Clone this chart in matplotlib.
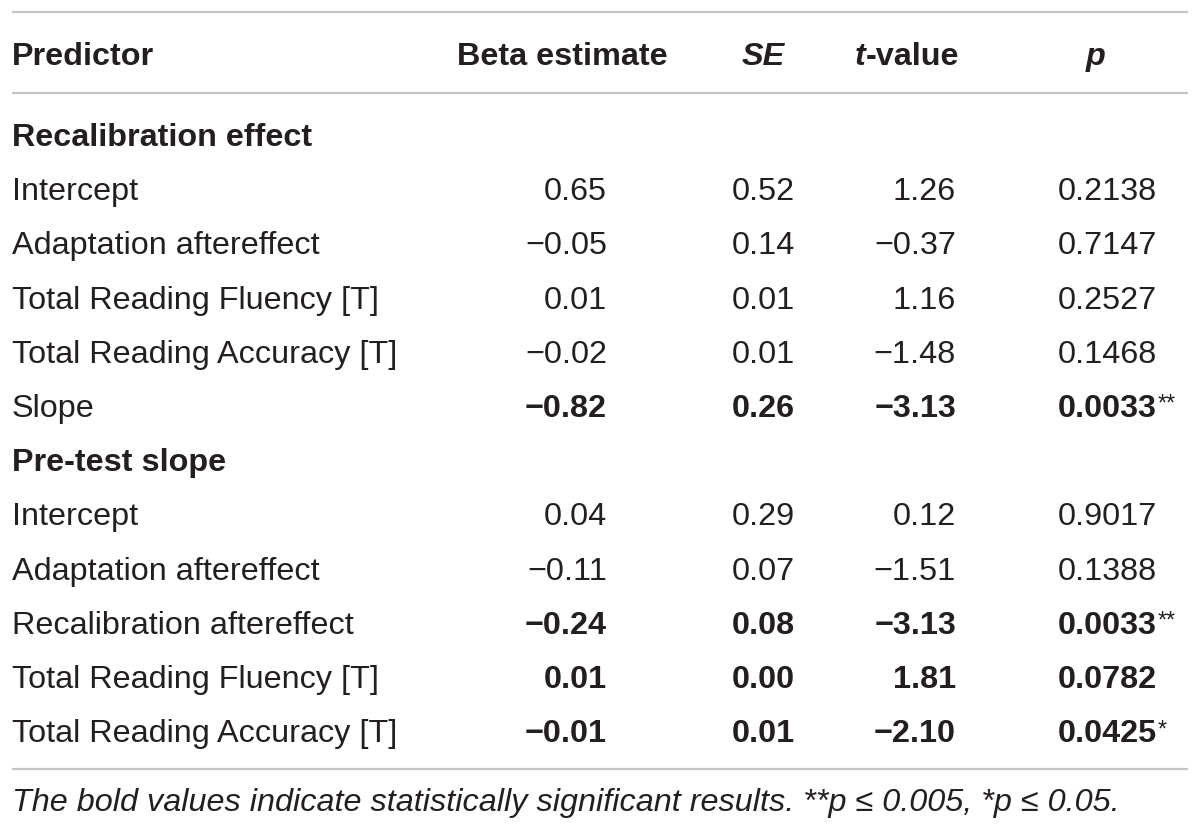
import matplotlib.pyplot as plt

plt.rcParams["font.family"] = ["Liberation Sans", "DejaVu Sans"]

# ---- table data ----
sections = ["Recalibration effect", "Pre-test slope"]

pred_recal = ["Intercept", "Adaptation aftereffect", "Total Reading Fluency [T]",
              "Total Reading Accuracy [T]", "Slope"]
beta_recal = ["0.65", "\u22120.05", "0.01", "\u22120.02", "\u22120.82"]
se_recal = ["0.52", "0.14", "0.01", "0.01", "0.26"]
t_recal = ["1.26", "\u22120.37", "1.16", "\u22121.48", "\u22123.13"]
p_recal = ["0.2138", "0.7147", "0.2527", "0.1468", "0.0033"]
star_recal = ["", "", "", "", "**"]
bold_recal = [False, False, False, False, True]

pred_pre = ["Intercept", "Adaptation aftereffect", "Recalibration aftereffect",
            "Total Reading Fluency [T]", "Total Reading Accuracy [T]"]
beta_pre = ["0.04", "\u22120.11", "\u22120.24", "0.01", "\u22120.01"]
se_pre = ["0.29", "0.07", "0.08", "0.00", "0.01"]
t_pre = ["0.12", "\u22121.51", "\u22123.13", "1.81", "\u22122.10"]
p_pre = ["0.9017", "0.1388", "0.0033", "0.0782", "0.0425"]
star_pre = ["", "", "**", "", "*"]
bold_pre = [False, False, True, True, True]

footnote = ("The bold values indicate statistically significant results. "
            "**p \u2264 0.005, *p \u2264 0.05.")

# ---- layout (pixel coords, y grows downward) ----
W, H = 1200, 832
TXT = "#231f20"
LINE = "#c4c4c4"
FS = 23.3
X_LEFT = 12
X_BETA, X_SE, X_T, X_P = 607, 795, 956, 1157
ROW = 54.2
BASE_HEAD = 65
BASE_SEC1 = 146

fig = plt.figure(figsize=(W / 100, H / 100), dpi=100)
ax = fig.add_axes([0, 0, 1, 1])
ax.set_xlim(0, W)
ax.set_ylim(H, 0)
ax.axis("off")

for yl in (12, 93, 769):
    ax.plot([12, 1188], [yl, yl], color=LINE, lw=1.6, solid_capstyle="butt")

# header
kw = dict(fontsize=FS, fontweight="bold", color=TXT, va="baseline")
ax.text(X_LEFT, BASE_HEAD, "Predictor", ha="left", **kw)
ax.text(562, BASE_HEAD, "Beta estimate", ha="center", **kw)
ax.text(763, BASE_HEAD, "SE", ha="center", style="italic", **kw)
t1 = ax.text(855, BASE_HEAD, "t", ha="left", style="italic", **kw)
ax.annotate("-value", xycoords=t1, xy=(1, 0), va="bottom", ha="left",
            fontsize=FS, fontweight="bold", color=TXT)
ax.text(1096, BASE_HEAD, "p", ha="center", style="italic", **kw)


def draw_block(y0, title, preds, betas, ses, ts, ps, stars, bolds):
    ax.text(X_LEFT, y0, title, fontsize=FS, fontweight="bold", color=TXT,
            va="baseline")
    for i, name in enumerate(preds):
        y = y0 + ROW * (i + 1)
        w = "bold" if bolds[i] else "normal"
        ax.text(X_LEFT, y, name, fontsize=FS, color=TXT, va="baseline")
        for x, val in zip((X_BETA, X_SE, X_T, X_P), (betas[i], ses[i], ts[i], ps[i])):
            ax.text(x, y, val, fontsize=FS, fontweight=w, color=TXT,
                    va="baseline", ha="right")
        if stars[i]:
            ax.text(X_P + 1, y - 6, stars[i], fontsize=FS * 0.72, color=TXT,
                    va="baseline", ha="left")


draw_block(BASE_SEC1, sections[0], pred_recal, beta_recal, se_recal, t_recal,
           p_recal, star_recal, bold_recal)
draw_block(BASE_SEC1 + 6 * ROW, sections[1], pred_pre, beta_pre, se_pre, t_pre,
           p_pre, star_pre, bold_pre)

ax.text(X_LEFT, 811, footnote, fontsize=FS, style="italic", color=TXT,
        va="baseline")

fig.savefig("out.png", dpi=100)
